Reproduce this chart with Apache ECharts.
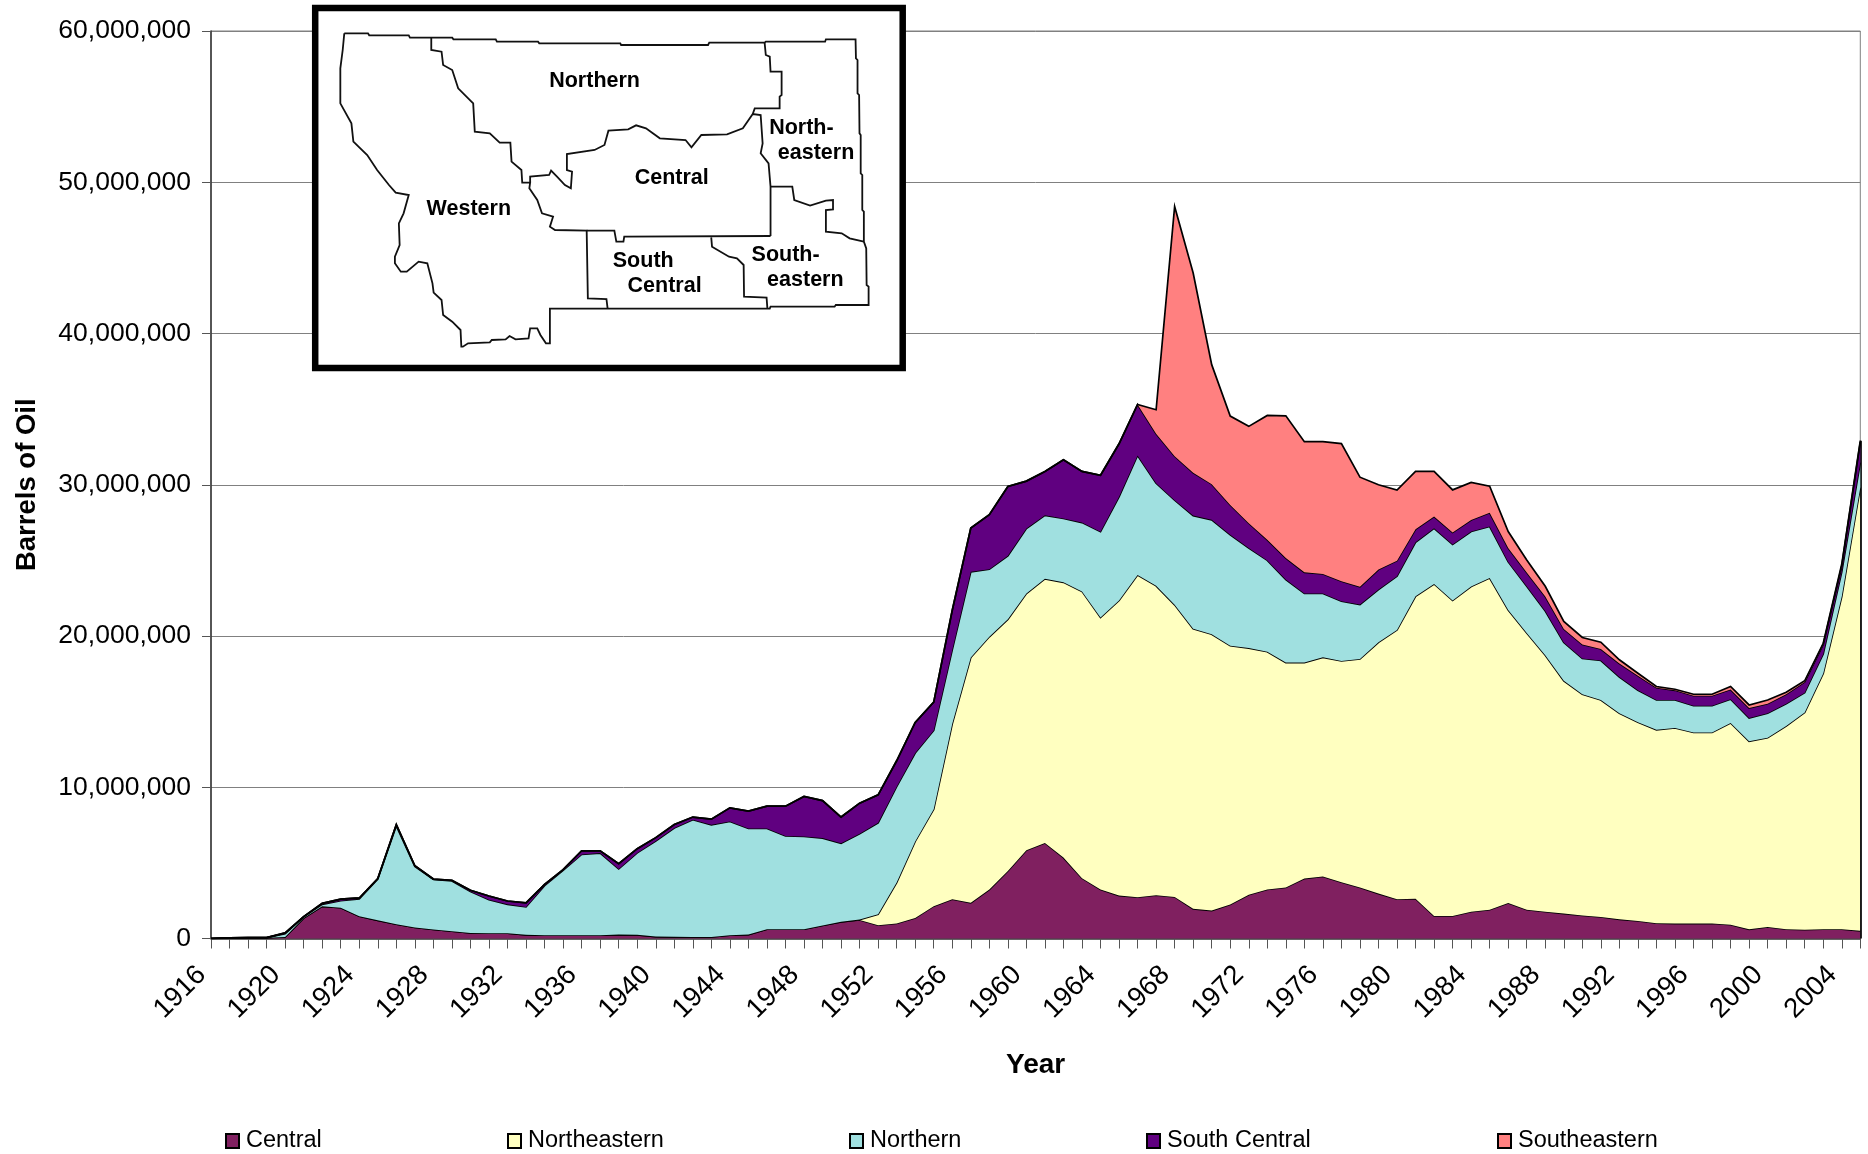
<!DOCTYPE html>
<html>
<head>
<meta charset="utf-8">
<style>html,body{margin:0;padding:0;background:#fff}#c{width:1868px;height:1154px}</style>
<script src="https://cdn.jsdelivr.net/npm/echarts@6/dist/echarts.min.js"></script>
</head>
<body>
<div id="c"></div>
<script>
// Values in millions of barrels, one per year 1916-2005
const central = [
0,.03,.05,.05,.1,1.35,2.13,2.04,1.47,1.2,
.95,.73,.6,.48,.37,.35,.35,.24,.22,.22,
.22,.22,.26,.24,.13,.11,.1,.1,.22,.26,
.61,.61,.61,.86,1.1,1.23,.88,.99,1.36,2.14,
2.6,2.36,3.24,4.47,5.84,6.32,5.35,3.99,3.24,2.84,
2.73,2.86,2.75,1.96,1.85,2.25,2.89,3.24,3.37,3.96,
4.1,3.72,3.37,2.97,2.6,2.63,1.49,1.49,1.77,1.9,
2.35,1.9,1.77,1.65,1.52,1.42,1.27,1.16,1.01,.99,
.99,.99,.91,.61,.76,.61,.58,.61,.61,.51];
const northeastern = [
0,0,0,0,0,0,0,0,0,0,
0,0,0,0,0,0,0,0,0,0,
0,0,0,0,0,0,0,0,0,0,
0,0,0,0,0,.02,.72,2.71,5.06,6.41,
11.6,16.22,16.71,16.63,16.97,17.46,18.2,18.96,17.98,19.51,
21.31,20.46,19.31,18.52,18.27,17.11,16.31,15.72,14.87,14.28,
14.49,14.63,15.11,16.61,17.8,19.99,21.95,20.86,21.5,21.93,
19.37,18.3,16.96,15.39,14.63,14.35,13.62,13.14,12.79,12.93,
12.63,12.63,13.34,12.43,12.51,13.44,14.36,16.91,22,29.31];
const northern = [
0,.02,.01,.01,.22,.08,.13,.46,1.15,2.73,
6.5,4.03,3.3,3.32,2.73,2.22,1.91,1.85,3.27,4.28,
5.34,5.43,4.34,5.42,6.32,7.19,7.75,7.42,7.52,7.02,
6.67,6.17,6.14,5.78,5.19,5.68,6.05,6.34,5.84,5.21,
4.88,5.66,4.47,4.2,4.29,4.2,4.22,4.55,5.68,6.85,
7.9,6.78,6.92,7.48,7.56,7.33,6.61,6.04,5.49,4.57,
4.22,3.95,3.6,3.49,3.55,3.58,3.68,3.7,3.64,3.41,
3.18,3.09,2.92,2.53,2.36,2.61,2.4,2.11,1.97,1.85,
1.77,1.77,1.57,1.54,1.62,1.47,1.31,1.29,1.64,1.65];
const southCentral = [
0,0,0,0,.05,.02,.06,.1,.06,.03,
.09,.05,.03,.05,.09,.24,.22,.26,.09,.05,
.24,.15,.35,.28,.22,.24,.18,.37,.9,1.14,
1.47,1.97,2.64,2.48,1.74,2.02,1.85,1.71,2.03,1.87,
2.62,2.9,3.6,4.59,3.14,2.9,3.88,3.38,3.73,3.51,
3.37,3.28,2.91,2.83,2.36,1.97,1.65,1.36,1.42,1.4,
1.29,1.32,1.17,1.32,1.03,.85,.78,.8,.76,.91,
.92,.91,.96,.89,.93,.76,.89,.96,.81,.64,
.66,.66,.64,.66,.63,.63,.71,.63,.38,1.34];
const southeastern = [
0,0,0,0,0,0,0,0,0,0,
0,0,0,0,0,0,0,0,0,0,
0,0,0,0,0,0,0,0,0,0,
0,0,0,0,0,0,0,0,0,0,
0,0,0,0,0,0,0,0,0,0,
0,1.58,16.51,13.21,7.9,5.88,6.4,8.22,9.41,8.64,
8.75,9.1,7.25,5.61,4.67,3.83,2.98,2.81,2.48,1.75,
1.09,.82,.68,.5,.46,.45,.25,.17,.08,.07,
.1,.1,.2,.2,.25,.13,.08,.08,.13,.1];
const firstYear = 1916;
const years = central.map((_, i) => String(firstYear + i));
const seriesNames = ['Central', 'Northeastern', 'Northern', 'South Central', 'Southeastern'];
const seriesValues = [central, northeastern, northern, southCentral, southeastern];
const seriesColors = ['#802060', '#FFFFC0', '#A0E0E0', '#600080', '#FF8080'];
const legendLeft = [225, 507, 849, 1146, 1497];

// Inset map of Montana regions: border lines
const mapLines = [
[[112,100],[172,100],[175,106],[275,106],[278,113],[385,113],[388,118],[495,118],[498,125],[602,125],[605,130],[810,130],[812,135],[1032,135],[1035,128],[1175,128],[1178,125],[1328,125],[1330,118],[1405,118],[1406,175],[1410,180],[1410,280],[1414,285],[1415,400],[1418,405],[1418,520],[1422,525],[1422,630],[1426,635],[1426,725],[1432,745],[1433,855],[1438,860],[1438,915],[1355,915],[1352,920],[1190,920],[1188,926],[632,926],[632,1030],[622,1030],[608,1005],[600,985],[582,985],[578,1015],[545,1018],[530,1008],[520,1018],[485,1020],[480,1027],[425,1030],[412,1040],[408,1040],[406,990],[385,965],[362,945],[358,900],[338,878],[335,850],[322,790],[300,785],[270,815],[255,815],[240,790],[240,770],[252,735],[250,670],[262,640],[275,585],[242,578],[225,555],[195,510],[170,465],[135,425],[130,370],[102,310],[102,205],[108,150],[112,100]],
[[332,113],[332,150],[358,155],[362,195],[385,210],[400,265],[438,310],[442,395],[480,400],[505,428],[532,428],[535,485],[560,510],[562,548],[582,548],[580,565],[600,600],[612,640],[640,650],[632,680],[645,690],[725,692],[728,895],[775,897],[778,926]],
[[582,548],[582,530],[630,525],[635,512],[650,530],[670,555],[685,565],[688,515],[675,510],[675,462],[745,450],[770,435],[780,392],[830,388],[850,376],[875,385],[910,415],[975,420],[990,442],[1015,405],[1080,403],[1120,385],[1145,342],[1165,345],[1170,430],[1165,460],[1185,490],[1190,560],[1190,708]],
[[1175,128],[1178,165],[1188,170],[1190,215],[1218,215],[1218,285],[1213,290],[1213,325],[1150,325],[1145,342]],
[[725,692],[795,692],[800,725],[818,725],[820,710],[1190,708]],
[[1040,712],[1042,740],[1085,770],[1105,775],[1122,795],[1123,890],[1180,893],[1182,925]],
[[1190,560],[1245,560],[1250,600],[1290,617],[1330,602],[1348,600],[1348,628],[1330,630],[1330,695],[1370,700],[1390,715],[1426,725]]
];
const mapLabels = [
['Northern',745,240],['Central',940,532],['Western',427,625],['North-',1268,380],['eastern',1305,457],
['South',868,780],['Central',922,855],['South-',1228,762],['eastern',1278,838]
];
const mapPoint = p => [300 + p[0] / 2.529, p[1] / 3];

const FONT = '"Liberation Sans", Arial, sans-serif';
const chart = echarts.init(document.getElementById('c'), null, {renderer: 'canvas', width: 1868, height: 1154});

const totalLast = seriesValues.reduce((s, a) => s + a[a.length - 1], 0) * 1e6;

const graphicElements = [
  {type: 'rect', z: 100, shape: {x: 315.2, y: 8, width: 587.5, height: 360},
   style: {fill: '#fff', stroke: '#000', lineWidth: 6.5}}
];
mapLines.forEach(l => graphicElements.push({
  type: 'polyline', z: 101, shape: {points: l.map(mapPoint)},
  style: {fill: null, stroke: '#111', lineWidth: 1.8}
}));
mapLabels.forEach(t => {
  const p = mapPoint([t[1], t[2]]);
  graphicElements.push({
    type: 'text', z: 102, x: p[0], y: p[1] + 1,
    style: {text: t[0], fill: '#000', font: 'bold 21.5px ' + FONT, align: 'center', verticalAlign: 'middle'}
  });
});

chart.setOption({
  animation: false,
  backgroundColor: '#fff',
  grid: {left: 211, right: 7.7, top: 31, bottom: 215.5, show: true, borderColor: '#808080', borderWidth: 1, backgroundColor: '#fff'},
  legend: seriesNames.map((n, i) => ({
    data: [n], left: legendLeft[i], top: 1129, icon: 'rect', itemWidth: 13, itemHeight: 14, itemGap: 0,
    selectedMode: false, padding: 0,
    itemStyle: {color: seriesColors[i], borderColor: '#000', borderWidth: 2},
    textStyle: {color: '#000', fontFamily: FONT, fontSize: 23.5, padding: [0, 0, 0, 2]}
  })),
  xAxis: {
    type: 'category', data: years, boundaryGap: false,
    name: 'Year', nameLocation: 'middle', nameGap: 113,
    nameTextStyle: {color: '#000', fontFamily: FONT, fontWeight: 'bold', fontSize: 28},
    axisLine: {lineStyle: {color: '#333', width: 1.5}},
    axisTick: {interval: 0, length: 10, lineStyle: {color: '#555', width: 1}},
    axisLabel: {interval: 3, rotate: 45, margin: 23, color: '#000', fontFamily: FONT, fontSize: 27.5, padding: [0, 13, 0, 0]},
    splitLine: {show: false}
  },
  yAxis: {
    type: 'value', min: 0, max: 60000000, interval: 10000000,
    name: 'Barrels of Oil', nameLocation: 'middle', nameGap: 170, nameRotate: 90,
    nameTextStyle: {color: '#000', fontFamily: FONT, fontWeight: 'bold', fontSize: 27.5},
    axisLine: {show: true, lineStyle: {color: '#333', width: 1.5}},
    axisTick: {show: true, length: 9, lineStyle: {color: '#555', width: 1}},
    axisLabel: {margin: 20, color: '#000', fontFamily: FONT, fontSize: 26.5, padding: [4, 0, 0, 0],
      formatter: v => v.toLocaleString('en-US')},
    splitLine: {show: true, lineStyle: {color: '#808080', width: 1}}
  },
  series: seriesNames.map((n, i) => ({
    name: n, type: 'line', stack: 'total', stackStrategy: 'all',
    data: seriesValues[i].map(v => v * 1e6),
    symbol: 'none', smooth: false, z: 3 + i,
    lineStyle: {color: '#000', width: 1.7, join: 'miter'},
    itemStyle: {color: seriesColors[i]},
    areaStyle: {color: seriesColors[i], opacity: 1},
    markLine: i === seriesNames.length - 1 ? {
      silent: true, symbol: 'none', label: {show: false}, animation: false,
      lineStyle: {color: '#000', width: 1.7, type: 'solid'},
      data: [[{xAxis: years[years.length - 1], yAxis: 0}, {xAxis: years[years.length - 1], yAxis: totalLast}]]
    } : undefined
  })),
  graphic: graphicElements
});
</script>
</body>
</html>
